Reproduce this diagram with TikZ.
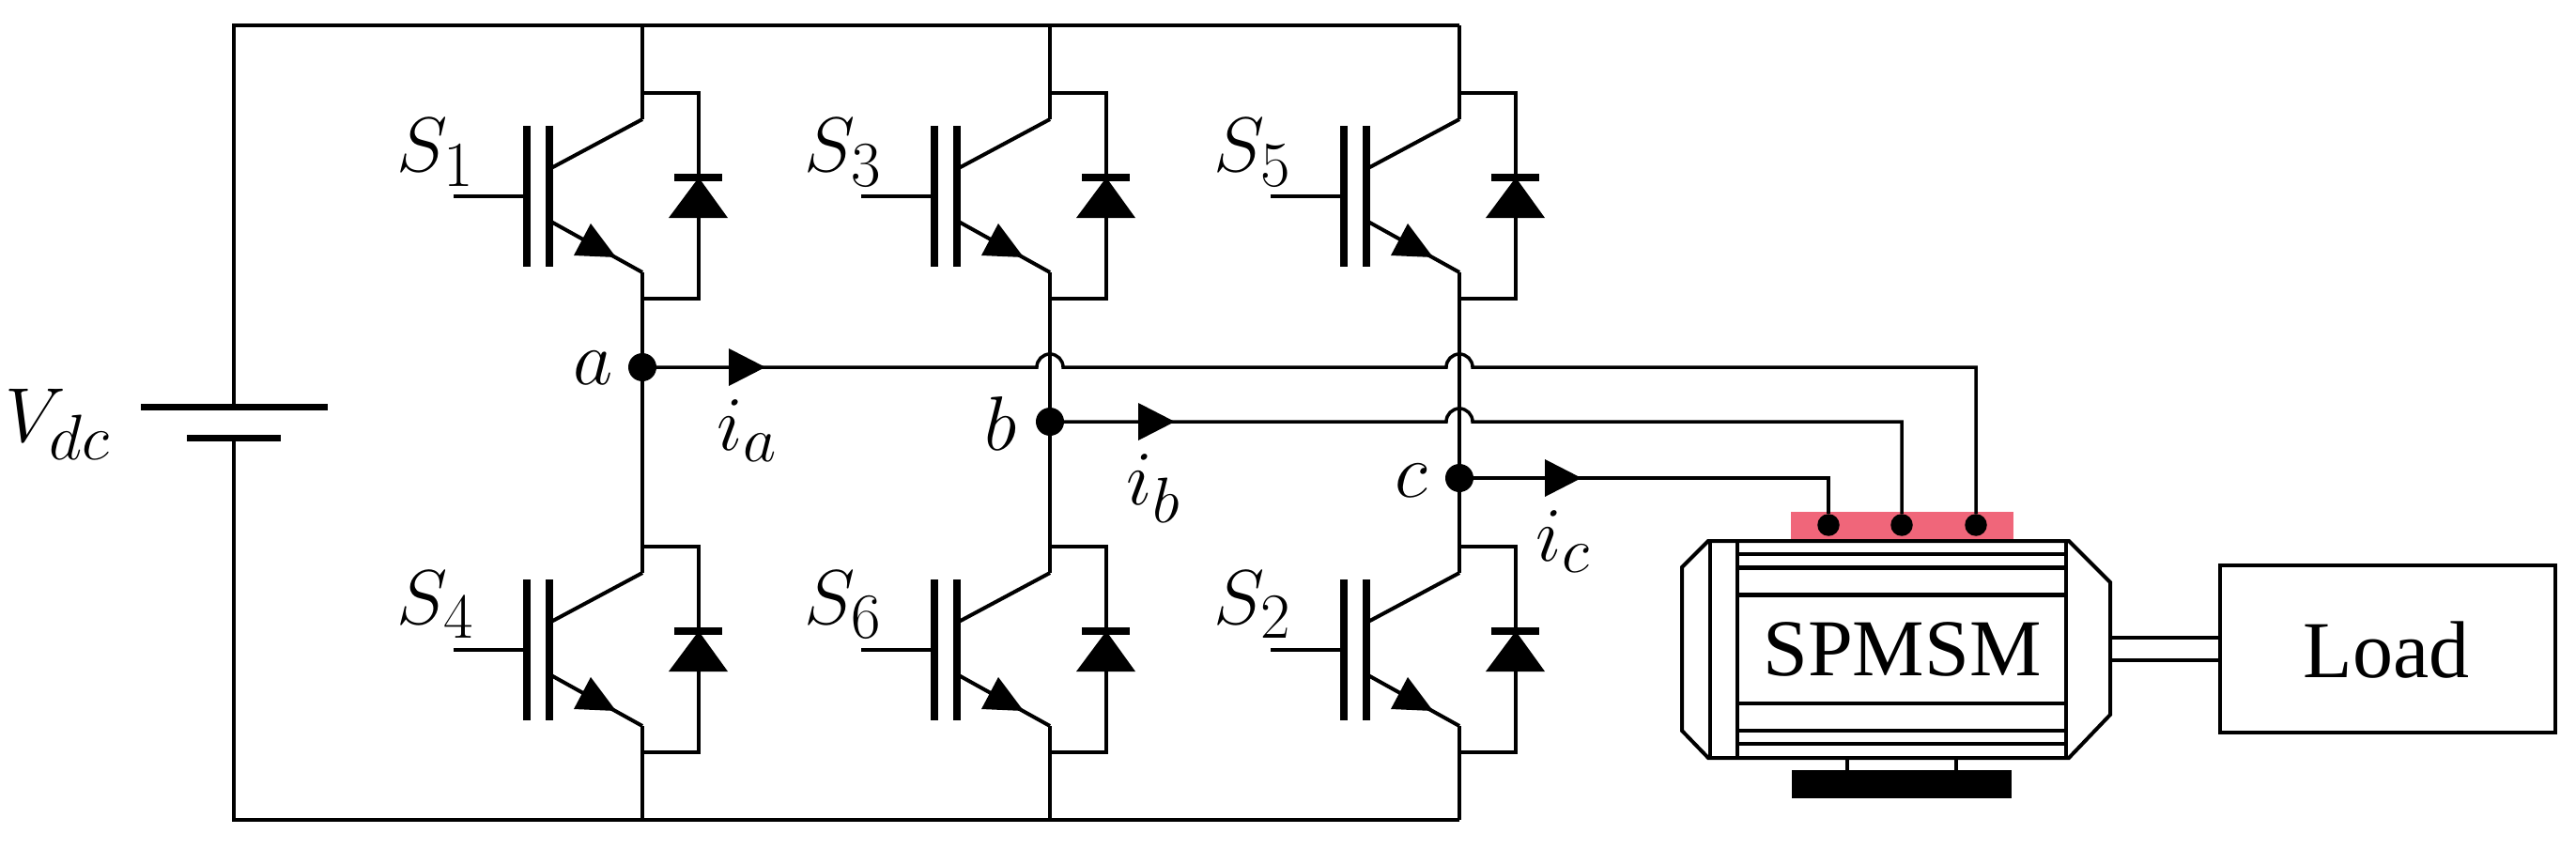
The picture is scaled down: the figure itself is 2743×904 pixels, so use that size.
\documentclass[tikz,border=0pt]{standalone}
\usepackage{fontspec}
\newfontfamily\wordfont{Liberation Serif}
\definecolor{termred}{HTML}{F0667A}
\tikzset{
  x=1pt,y=-1pt,
  wire/.style={line width=4pt,line join=miter},
  thinwire/.style={line width=3.5pt},
  heavywire/.style={line width=5pt},
  lbl/.style={inner sep=0pt,anchor=base west,scale=3.3,font=\fontsize{24.88}{30}\selectfont},
  word/.style={inner sep=0pt,font=\wordfont\fontsize{86}{100}\selectfont},
  dot/.style={circle,fill=black,inner sep=0pt,minimum size=30pt},
  term/.style={circle,fill=black,inner sep=0pt,minimum size=23.5pt},
  igbt/.pic={
    \coordinate (-c) at (0,0);
    \coordinate (-e) at (0,163);
    \coordinate (-top) at (0,-28);
    \coordinate (-bot) at (0,191);
    \draw[thinwire] (-201,82) -- (-127,82);
    \draw[line width=8pt] (-123,7) -- (-123,157);
    \draw[line width=8pt] (-99,7) -- (-99,157);
    \draw[wire] (-99,53) -- (0,0);
    \draw[wire] (-99,108) -- (0,163);
    \fill (-28,147) -- (-55,111) -- (-73,145) -- cycle;
    \draw[wire] (0,-28) -- (60,-28) -- (60,191) -- (0,191);
    \draw[line width=8pt] (34,62) -- (85,62);
    \fill (60,62) -- (28,105) -- (91,105) -- cycle;
  }
}
\begin{document}
\begin{tikzpicture}
\useasboundingbox (0,0) rectangle (2743,904);

% switches
\pic (s1) at (684,127) {igbt};
\pic (s3) at (1118,127) {igbt};
\pic (s5) at (1554,127) {igbt};
\pic (s4) at (684,610) {igbt};
\pic (s6) at (1118,610) {igbt};
\pic (s2) at (1554,610) {igbt};

% rails
\coordinate (tl) at (249,27);
\coordinate (tr) at (1554,27);
\coordinate (bl) at (249,873);
\coordinate (br) at (1554,873);
\coordinate (bp) at (249,433);
\coordinate (bn) at (249,466);
\draw[wire] (bp) -- (tl) -- (tr);
\draw[wire] (bn) -- (bl) -- (br);

% phase nodes
\node[dot] (na) at (684,391) {};
\node[dot] (nb) at (1118,449) {};
\node[dot] (nc) at (1554,509) {};

\foreach \u/\l/\n in {s1/s4/na,s3/s6/nb,s5/s2/nc}{
  \draw[wire] (\u-c) -- (\u-c |- tr);
  \draw[wire] (\u-e) -- (\n);
  \draw[wire] (\n) -- (\l-c);
  \draw[wire] (\l-e) -- (\l-e |- br);
}

% battery
\draw[line width=7pt] (150,433) -- (349,433);
\draw[line width=7pt] (199,466) -- (299,466);

% terminal box
\fill[termred] (1907,545) rectangle (2144,575);
\node[term] (tc) at (1947,559) {};
\node[term] (tb) at (2025,559) {};
\node[term] (ta) at (2104,559) {};

% phase wires with hops
\draw[thinwire] (na) -- (1104,391) arc[start angle=180,end angle=360,radius=14]
  -- (1540,391) arc[start angle=180,end angle=360,radius=14]
  -- (ta |- na) -- (ta);
\draw[thinwire] (nb) -- (1540,449) arc[start angle=180,end angle=360,radius=14]
  -- (tb |- nb) -- (tb);
\draw[wire] (nc) -- (tc |- nc) -- (tc);

% current arrows
\fill (776,371) -- (815,391) -- (776,411) -- cycle;
\fill (1212,429) -- (1251,449) -- (1212,469) -- cycle;
\fill (1645,489) -- (1684,509) -- (1645,529) -- cycle;

% motor
\draw[wire] (1791,604) -- (1819,576) -- (2203,576) -- (2247,620) -- (2247,761) -- (2203,807) -- (1819,807) -- (1791,778) -- cycle;
\draw[line width=4.5pt] (1821,576) -- (1821,807);
\draw[wire] (1850,576) -- (1850,807);
\draw[wire] (2200,576) -- (2200,807);
\foreach \yy in {590,749,778,792}
  \draw[wire] (1850,\yy) -- (2200,\yy);
\foreach \yy in {604,633}
  \draw[heavywire] (1850,\yy) -- (2200,\yy);
\draw[thinwire] (1967,807) -- (1967,820);
\draw[thinwire] (2083,807) -- (2083,820);
\fill (1908,820) rectangle (2142,850);

% load and shaft
\node[draw,line width=4pt,minimum width=357pt,minimum height=178pt,inner sep=0pt] (load) at (2542.5,691) {};
\coordinate (sh1) at (2248,679);
\coordinate (sh2) at (2248,703);
\draw[wire] (sh1) -- (sh1 -| load.west);
\draw[wire] (sh2) -- (sh2 -| load.west);

% text
\node[word,anchor=base] (tm) at (2025.5,719) {SPMSM};
\node[word,anchor=base] (tl2) at (2541,721) {Load};
\node[lbl] (lv) at (5,470) {$V_{dc}$};
\node[lbl] (ls1) at (422,183) {$S_1$};
\node[lbl] (ls3) at (856,183) {$S_3$};
\node[lbl] (ls5) at (1292,183) {$S_5$};
\node[lbl] (ls4) at (422,664) {$S_4$};
\node[lbl] (ls6) at (856,664) {$S_6$};
\node[lbl] (ls2) at (1292,664) {$S_2$};
\node[lbl] (la) at (610,409) {$a$};
\node[lbl] (lb) at (1048,479) {$b$};
\node[lbl] (lc) at (1485,529) {$c$};
\node[lbl] (lia) at (763,479) {$i_a$};
\node[lbl] (lib) at (1199,537) {$i_b$};
\node[lbl] (lic) at (1635,597) {$i_c$};
\end{tikzpicture}
\end{document}
